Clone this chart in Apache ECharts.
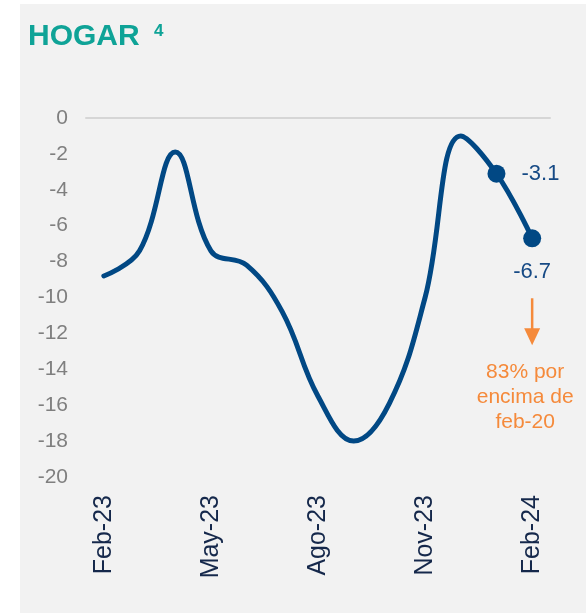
<!DOCTYPE html>
<html>
<head>
<meta charset="utf-8">
<script src="https://cdn.jsdelivr.net/npm/echarts@6/dist/echarts.min.js"></script>
<style>
  html, body { margin: 0; padding: 0; background: #fff; }
  #main { width: 588px; height: 613px; }
</style>
</head>
<body>
<div id="main"></div>
<script>
  var months = ['Feb-23', 'Mar-23', 'Abr-23', 'May-23', 'Jun-23', 'Jul-23', 'Ago-23',
    'Sep-23', 'Oct-23', 'Nov-23', 'Dic-23', 'Ene-24', 'Feb-24'];
  var hogar = [-8.8, -7.4, -1.9, -7.4, -8.2, -10.8, -15.5, -18.0, -15.9, -10.0, -1.0, -3.1, -6.7];
  var yTicks = [0, -20, 2]; // max, min, interval
  var note = ['83% por', 'encima de', 'feb-20'];

  var lineColor = '#014884';
  var orange = '#f58a3b';
  var font = 'Liberation Sans, Arial, sans-serif';
  var last = hogar.length - 1;

  // only the last two points get a dot and a label
  var items = hogar.map(function (v, i) {
    if (i === last - 1) return { value: v, symbol: 'circle', label: { show: true, position: 'right', distance: 16 } };
    if (i === last) return { value: v, symbol: 'circle', label: { show: true, position: 'bottom', distance: 14 } };
    return { value: v, symbol: 'none', label: { show: false } };
  });

  var chart = echarts.init(document.getElementById('main'));
  chart.setOption({
    backgroundColor: '#fff',
    animation: false,
    grid: { left: 86, right: 38, top: 118, bottom: 136 },
    xAxis: [{
      type: 'category',
      data: months,
      boundaryGap: true,
      axisLine: { show: false },
      axisTick: { show: false },
      axisLabel: {
        rotate: 90,
        interval: 2,
        margin: 18,
        color: '#15284b',
        fontSize: 25,
        fontFamily: font
      }
    }, {
      type: 'category',
      data: months,
      position: 'top',
      axisLine: { lineStyle: { color: '#d6d6d6', width: 2 } },
      axisTick: { show: false },
      axisLabel: { show: false }
    }],
    yAxis: {
      type: 'value',
      max: yTicks[0],
      min: yTicks[1],
      interval: yTicks[2],
      axisLine: { show: false },
      axisTick: { show: false },
      splitLine: { show: false },
      axisLabel: { margin: 18, color: '#7f7f7f', fontSize: 21, fontFamily: font }
    },
    series: [{
      name: 'Hogar',
      type: 'line',
      smooth: 0.4,
      data: items,
      symbolSize: 18,
      showAllSymbol: true,
      itemStyle: { color: lineColor },
      lineStyle: { color: lineColor, width: 5, cap: 'round' },
      label: {
        fontSize: 22,
        fontFamily: font,
        color: '#164a85',
        formatter: function (p) { return p.value.toFixed(1); }
      }
    }]
  });

  // panel, title and the note under the last point
  var pt = chart.convertToPixel({ xAxisIndex: 0, yAxisIndex: 0 }, [last, hogar[last]]);
  var g = [{
    type: 'rect',
    z: -10,
    silent: true,
    shape: { x: 20, y: 4, width: 566, height: 609 },
    style: { fill: '#f2f2f2' }
  }, {
    type: 'text',
    x: 28, y: 37,
    style: { text: 'HOGAR', fill: '#0fa397', font: 'bold 30px ' + font, verticalAlign: 'middle' }
  }, {
    type: 'text',
    x: 154, y: 31,
    style: { text: '4', fill: '#0fa397', font: 'bold 17px ' + font, verticalAlign: 'middle' }
  }, {
    type: 'line',
    shape: { x1: pt[0], y1: pt[1] + 60, x2: pt[0], y2: pt[1] + 92 },
    style: { stroke: orange, lineWidth: 2.5 }
  }, {
    type: 'polygon',
    shape: { points: [[pt[0] - 8, pt[1] + 90], [pt[0] + 8, pt[1] + 90], [pt[0], pt[1] + 107]] },
    style: { fill: orange }
  }];
  note.forEach(function (t, i) {
    g.push({
      type: 'text',
      x: pt[0] - 7, y: pt[1] + 134 + i * 25,
      style: { text: t, fill: orange, font: '21px ' + font, align: 'center', verticalAlign: 'middle' }
    });
  });
  chart.setOption({ graphic: g });
</script>
</body>
</html>
